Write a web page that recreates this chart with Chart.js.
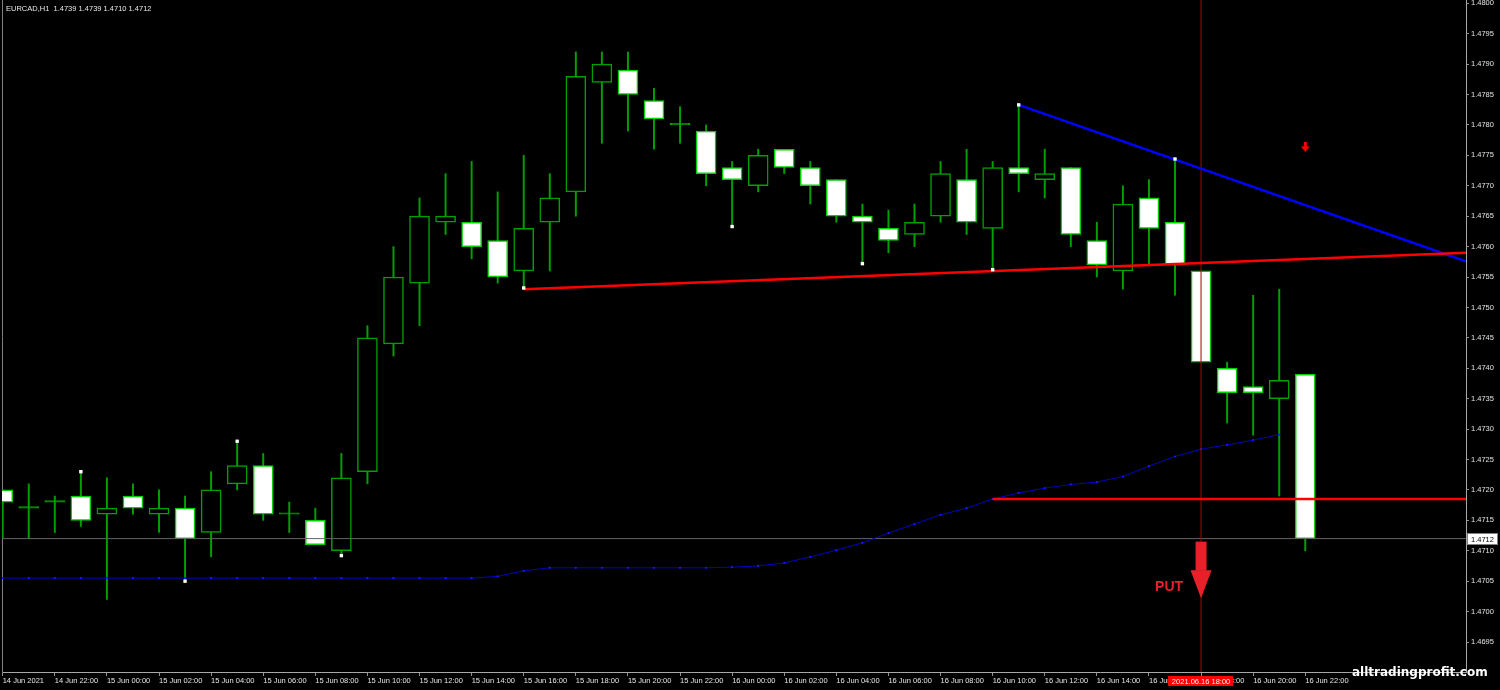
<!DOCTYPE html>
<html><head><meta charset="utf-8">
<script src="https://cdn.jsdelivr.net/npm/chart.js@4/dist/chart.umd.min.js"></script>
<style>html,body{margin:0;padding:0;background:#000;overflow:hidden}canvas{display:block}</style>
</head><body>
<canvas id="c" width="1500" height="690"></canvas>
<script>
// ---- data (EURCAD H1, 14 Jun 2021 20:00 .. 16 Jun 2021 22:00) ----
const symbol = 'EURCAD,H1';
const opens  = [1.4720,1.4717,1.4718,1.4719,1.4716,1.4719,1.4716,1.4717,1.4713,1.4721,
                1.4724,1.4716,1.4715,1.4710,1.4723,1.4744,1.4754,1.4764,1.4764,1.4761,
                1.4756,1.4764,1.4769,1.4787,1.4789,1.4784,1.4780,1.4779,1.4773,1.4770,
                1.4776,1.4773,1.4771,1.4765,1.4763,1.4762,1.4765,1.4771,1.4763,1.4773,
                1.4771,1.4773,1.4761,1.4756,1.4768,1.4764,1.4756,1.4740,1.4737,1.4735,
                1.4739];
const highs  = [1.4720,1.4721,1.4719,1.4723,1.4722,1.4721,1.4720,1.4719,1.4723,1.4728,
                1.4726,1.4718,1.4717,1.4726,1.4747,1.4760,1.4768,1.4772,1.4774,1.4769,
                1.4775,1.4772,1.4792,1.4792,1.4792,1.4786,1.4783,1.4780,1.4774,1.4776,
                1.4776,1.4774,1.4771,1.4767,1.4766,1.4767,1.4774,1.4776,1.4774,1.47833,
                1.4776,1.4773,1.4764,1.4770,1.4771,1.47744,1.4756,1.4741,1.4752,1.4753,
                1.4739];
const lows   = [1.4712,1.4712,1.4713,1.4714,1.4702,1.4716,1.4713,1.4705,1.4709,1.4720,
                1.4715,1.4713,1.4711,1.47092,1.4721,1.4742,1.4747,1.4762,1.4758,1.4754,
                1.47532,1.4756,1.4765,1.4777,1.4779,1.4776,1.4777,1.4770,1.47633,1.4769,
                1.4772,1.4767,1.4764,1.47572,1.4759,1.4760,1.4764,1.4762,1.47562,1.4769,
                1.4768,1.4760,1.4755,1.4753,1.4757,1.4752,1.4741,1.4731,1.4729,1.4719,
                1.4710];
const closes = [1.4718,1.4717,1.4718,1.4715,1.4717,1.4717,1.4717,1.4712,1.4720,1.4724,
                1.4716,1.4716,1.4711,1.4722,1.4745,1.4755,1.4765,1.4765,1.4760,1.4755,
                1.4763,1.4768,1.4788,1.4790,1.4785,1.4781,1.4780,1.4772,1.4771,1.4775,
                1.4773,1.4770,1.4765,1.4764,1.4761,1.4764,1.4772,1.4764,1.4773,1.4772,
                1.4772,1.4762,1.4757,1.4767,1.4763,1.4757,1.4741,1.4736,1.4736,1.4738,
                1.4712];
const maValues = [1.47055,1.47055,1.47055,1.47055,1.47055,1.47055,1.47055,1.47055,1.47055,1.47055,
                  1.47055,1.47055,1.47055,1.47055,1.47055,1.47055,1.47055,1.47055,1.47055,1.47058,
                  1.47067,1.47072,1.47072,1.47072,1.47072,1.47072,1.47072,1.47072,1.47073,1.47075,
                  1.47080,1.47090,1.47101,1.47113,1.47129,1.47144,1.47159,1.47170,1.47185,1.47195,
                  1.47203,1.47209,1.47213,1.47222,1.47239,1.47255,1.47267,1.47274,1.47282,1.47291];
const xTickIdx = [0,2,4,6,8,10,12,14,16,18,20,22,24,26,28,30,32,34,36,38,40,42,44,46,48,50];
const xTickLabels = ['14 Jun 2021','14 Jun 22:00','15 Jun 00:00','15 Jun 02:00','15 Jun 04:00','15 Jun 06:00',
  '15 Jun 08:00','15 Jun 10:00','15 Jun 12:00','15 Jun 14:00','15 Jun 16:00','15 Jun 18:00','15 Jun 20:00',
  '15 Jun 22:00','16 Jun 00:00','16 Jun 02:00','16 Jun 04:00','16 Jun 06:00','16 Jun 08:00','16 Jun 10:00',
  '16 Jun 12:00','16 Jun 14:00','16 Jun 16:00','16 Jun 18:00','16 Jun 20:00','16 Jun 22:00'];
const yTickValues = [1.4695,1.4700,1.4705,1.4710,1.4715,1.4720,1.4725,1.4730,1.4735,1.4740,1.4745,
                     1.4750,1.4755,1.4760,1.4765,1.4770,1.4775,1.4780,1.4785,1.4790,1.4795,1.4800];
const xRange = [-0.027, 56.17];
const yRange = [1.469007, 1.480054];
const fractalIdx  = [3,7,9,13,20,28,33,38,39,45];
const fractalSide = ['h','l','h','l','l','l','l','l','h','h'];
const supportX = [20, 56.17],  supportY = [1.47530, 1.47590];
const resistX  = [39, 56.17],  resistY  = [1.47833, 1.47576];
const levelX   = [38, 56.17],  levelY   = [1.47185, 1.47185];
const signalIdx = 46;
const signalTime = '2021.06.16 18:00';
const putArrow = [1.47115, 1.47022];   // top, tip
const putText = 'PUT';
const sellMarkX = [50], sellMarkY = [1.47764];
const watermark = 'alltradingprofit.com';

// ---- build ----
const idx = opens.map((_, i) => i);
const BULL = '#00a000', BEAR = '#00d000';
const isBull = i => closes[i] > opens[i];
const isBear = i => closes[i] < opens[i];

const arrowImg = document.createElement('canvas');
arrowImg.width = 9; arrowImg.height = 10;
(() => {
  const g = arrowImg.getContext('2d');
  g.fillStyle = '#ff0000';
  g.fillRect(3, 0, 3, 5);
  g.beginPath(); g.moveTo(0, 4.5); g.lineTo(9, 4.5); g.lineTo(4.5, 10); g.closePath(); g.fill();
})();

const lineDs = (xs, ys, color, width, order) => ({
  type: 'line', data: xs.map((x, k) => ({x, y: ys[k]})), borderColor: color, borderWidth: width,
  pointRadius: 0, order, xAxisID: 'x', yAxisID: 'y', tension: 0
});

const font = {family: 'Liberation Sans', size: 7.5};
const fontStr = '7.5px "Liberation Sans"';
const noPad = s => { s.paddingTop = 0; s.paddingBottom = 0; s.paddingLeft = 0; s.paddingRight = 0; };

const overlay = {
  id: 'overlay',
  beforeDraw(chart) {
    const c = chart.ctx; c.save(); c.fillStyle = '#000'; c.fillRect(0, 0, chart.width, chart.height); c.restore();
  },
  afterDatasetsDraw(chart) {
    const c = chart.ctx, xs = chart.scales.x, ys = chart.scales.y;
    const cx = xs.getPixelForValue(signalIdx);
    const top = ys.getPixelForValue(putArrow[0]), tip = ys.getPixelForValue(putArrow[1]);
    c.save();
    c.fillStyle = '#e8202a';
    c.fillRect(cx - 5.5, top, 11, (tip - 28) - top + 0.5);
    c.beginPath(); c.moveTo(cx - 10.5, tip - 28); c.lineTo(cx + 10.5, tip - 28); c.lineTo(cx, tip); c.closePath(); c.fill();
    c.font = 'bold 14px "Liberation Sans"';
    c.textAlign = 'right'; c.textBaseline = 'alphabetic';
    c.fillText(putText, cx - 18, tip - 7);
    c.restore();
  },
  afterDraw(chart) {
    const c = chart.ctx, xs = chart.scales.x, ys = chart.scales.y;
    const last = opens.length - 1;
    c.save();
    // title
    c.font = fontStr; c.fillStyle = '#e8e8e8'; c.textBaseline = 'middle'; c.textAlign = 'left';
    c.fillText(symbol + '  ' + [opens[last], highs[last], lows[last], closes[last]].map(v => v.toFixed(4)).join(' '), 6, 8.5);
    // current price box
    const py = Math.round(ys.getPixelForValue(closes[last]));
    c.fillStyle = '#ffffff'; c.fillRect(1467.5, py - 5.5, 30, 11);
    c.strokeStyle = '#808080'; c.lineWidth = 1; c.strokeRect(1467.5, py - 5.5, 30, 11);
    c.fillStyle = '#000'; c.fillText(closes[last].toFixed(4), 1471, py + 0.5);
    // signal time box
    const cx = xs.getPixelForValue(signalIdx);
    c.fillStyle = '#ff0000'; c.fillRect(Math.round(cx - 33), 676, 65, 10);
    c.fillStyle = '#f4f4f4'; c.textAlign = 'center'; c.fillText(signalTime, cx, 681.5);
    // watermark
    c.font = 'bold 12px "DejaVu Sans"'; c.fillStyle = '#ffffff'; c.textAlign = 'left'; c.textBaseline = 'alphabetic';
    c.fillText(watermark, 1352, 675.5);
    c.restore();
  }
};

new Chart(document.getElementById('c'), {
  type: 'bar',
  data: {
    datasets: [
      { // arrow mark
        type: 'line', showLine: false, data: sellMarkX.map((x, k) => ({x, y: sellMarkY[k]})),
        pointStyle: arrowImg, pointRadius: 5, order: 0, xAxisID: 'x', yAxisID: 'y'
      },
      { // fractal markers
        type: 'line', showLine: false,
        data: fractalIdx.map((i, k) => ({x: i, y: fractalSide[k] === 'h' ? highs[i] : lows[i]})),
        pointStyle: 'rect', pointRadius: 2.4, pointBackgroundColor: '#ffffff', pointBorderWidth: 0,
        order: 1, xAxisID: 'x', yAxisID: 'y'
      },
      lineDs(supportX, supportY, '#ff0000', 2.5, 2),
      lineDs(resistX, resistY, '#0000ff', 2.5, 2),
      lineDs(levelX, levelY, '#ff0000', 2.5, 2),
      lineDs([signalIdx, signalIdx], [yRange[0] - 0.001, yRange[1] + 0.001], '#a80000', 1, 2),
      { // moving average
        type: 'line', data: maValues.map((v, i) => ({x: i, y: v})), borderColor: '#0000c0', borderWidth: 1,
        pointRadius: 1.1, pointBackgroundColor: '#1a1aff', pointBorderWidth: 0, order: 3, tension: 0,
        xAxisID: 'x', yAxisID: 'y'
      },
      lineDs(xRange, [closes[closes.length - 1], closes[closes.length - 1]], '#646464', 1, 4),
      { // bodies
        type: 'bar', data: idx.map(i => ({x: i, y: [opens[i], closes[i]]})),
        backgroundColor: ctx => isBull(ctx.dataIndex) ? '#000000' : isBear(ctx.dataIndex) ? '#ffffff' : BULL,
        borderColor: ctx => isBear(ctx.dataIndex) ? BEAR : BULL,
        borderWidth: 1.5, borderSkipped: false, barThickness: 20, grouped: false, minBarLength: 1.5,
        order: 5, xAxisID: 'x', yAxisID: 'y'
      },
      { // wicks
        type: 'bar', data: idx.map(i => ({x: i, y: [lows[i], highs[i]]})),
        backgroundColor: BULL, borderWidth: 0, barThickness: 1.3, grouped: false,
        order: 6, xAxisID: 'x', yAxisID: 'y'
      }
    ]
  },
  options: {
    responsive: false, devicePixelRatio: 1, animation: false, events: [],
    layout: {padding: 0, autoPadding: false},
    plugins: {legend: {display: false}, tooltip: {enabled: false}, title: {display: false}},
    scales: {
      x: {
        type: 'linear', position: 'bottom', min: xRange[0], max: xRange[1], offset: false,
        afterBuildTicks: s => { s.ticks = xTickIdx.map(v => ({value: v})); },
        afterFit: s => { s.height = 18; noPad(s); },
        grid: {display: true, drawOnChartArea: false, drawTicks: true, tickLength: 4, color: '#909090', offset: false},
        border: {display: true, color: '#a8a8a8', width: 1},
        ticks: {align: 'start', autoSkip: false, maxRotation: 0, minRotation: 0, padding: 0,
                color: '#e4e4e4', font, callback: (v, i) => xTickLabels[i]}
      },
      y: {
        type: 'linear', position: 'right', min: yRange[0], max: yRange[1], beginAtZero: false,
        afterBuildTicks: s => { s.ticks = yTickValues.map(v => ({value: v})); },
        afterFit: s => { s.width = 34; noPad(s); },
        grid: {display: true, drawOnChartArea: false, drawTicks: true, tickLength: 3, color: '#909090'},
        border: {display: true, color: '#a8a8a8', width: 1},
        ticks: {padding: 2, color: '#e4e4e4', font, callback: v => v.toFixed(4)}
      },
      yl: {
        type: 'linear', position: 'left', display: true,
        afterFit: s => { s.width = 2; noPad(s); },
        grid: {display: false}, ticks: {display: false},
        border: {display: true, color: '#808080', width: 1}
      }
    }
  },
  plugins: [overlay]
});
</script>
</body></html>
